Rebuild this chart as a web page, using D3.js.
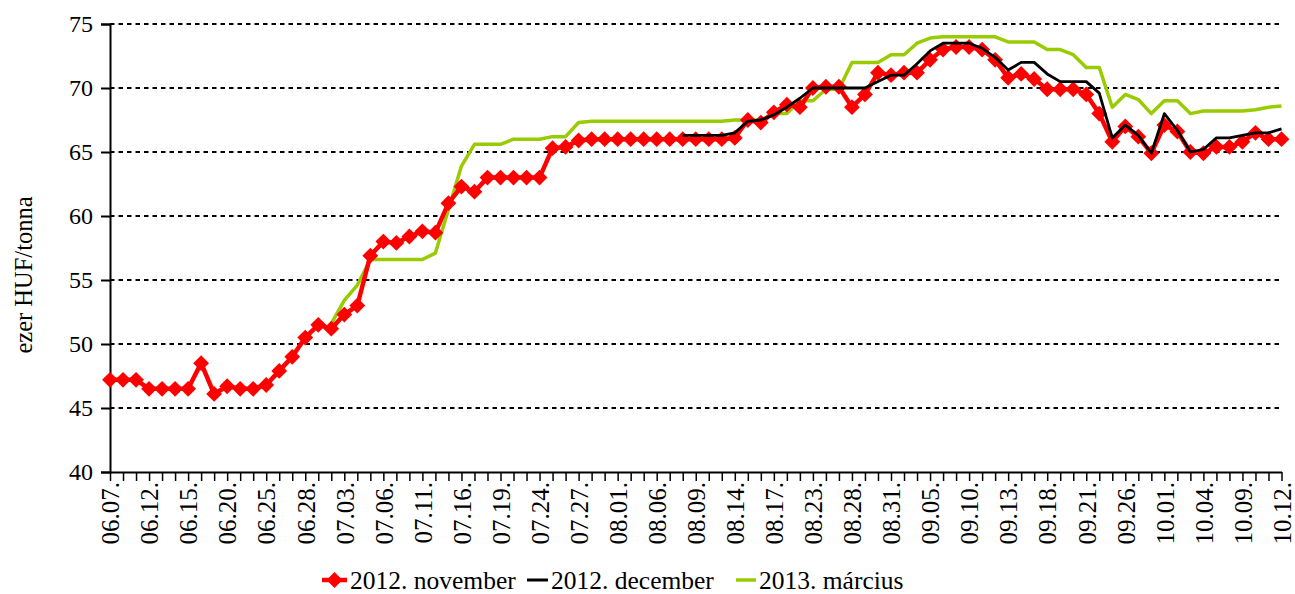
<!DOCTYPE html>
<html>
<head>
<meta charset="utf-8">
<script src="https://cdn.jsdelivr.net/npm/d3@7"></script>
<style>
  body { margin: 0; background: #fff; }
  svg, svg text { font-family: "Liberation Serif", "Times New Roman", serif; }
</style>
</head>
<body>
<div class="canvas"></div>
<script>
// trading days, 2012
var dates = ["06.07.","06.08.","06.11.","06.12.","06.13.","06.14.","06.15.","06.18.","06.19.","06.20.",
  "06.21.","06.22.","06.25.","06.26.","06.27.","06.28.","06.29.","07.02.","07.03.","07.04.",
  "07.05.","07.06.","07.09.","07.10.","07.11.","07.12.","07.13.","07.16.","07.17.","07.18.",
  "07.19.","07.20.","07.23.","07.24.","07.25.","07.26.","07.27.","07.30.","07.31.","08.01.",
  "08.02.","08.03.","08.06.","08.07.","08.08.","08.09.","08.10.","08.13.","08.14.","08.15.",
  "08.16.","08.17.","08.21.","08.22.","08.23.","08.24.","08.27.","08.28.","08.29.","08.30.",
  "08.31.","09.03.","09.04.","09.05.","09.06.","09.07.","09.10.","09.11.","09.12.","09.13.",
  "09.14.","09.17.","09.18.","09.19.","09.20.","09.21.","09.24.","09.25.","09.26.","09.27.",
  "09.28.","10.01.","10.02.","10.03.","10.04.","10.05.","10.08.","10.09.","10.10.","10.11.","10.12."];

var nov2012 = [47.2,47.2,47.2,46.5,46.5,46.5,46.5,48.5,46.1,46.7,
  46.5,46.5,46.8,47.9,49.0,50.5,51.5,51.2,52.3,53.0,
  56.9,58.0,57.9,58.4,58.8,58.7,61.0,62.3,61.9,63.0,
  63.0,63.0,63.0,63.0,65.3,65.4,65.9,66.0,66.0,66.0,
  66.0,66.0,66.0,66.0,66.0,66.0,66.0,66.0,66.1,67.5,
  67.3,68.1,68.7,68.5,70.0,70.1,70.1,68.5,69.5,71.2,
  71.0,71.2,71.2,72.2,73.0,73.2,73.2,73.0,72.2,70.8,
  71.1,70.7,69.9,69.9,69.9,69.5,68.0,65.8,67.0,66.2,
  64.9,67.1,66.6,65.0,64.9,65.4,65.4,65.8,66.5,66.0,66.0];

var dec2012 = [null,null,null,null,null,null,null,null,null,null,
  null,null,null,null,null,null,null,null,null,null,
  null,null,null,null,null,null,null,null,null,null,
  null,null,null,null,null,null,null,null,null,null,
  null,null,null,null,66.3,66.3,66.3,66.3,66.5,67.4,
  67.5,67.9,68.5,69.2,70.0,70.0,70.0,70.0,70.0,70.5,
  71.0,71.0,71.9,72.9,73.5,73.5,73.5,73.1,72.4,71.4,
  72.0,72.0,71.1,70.5,70.5,70.5,69.6,66.1,67.1,66.3,
  64.9,68.0,66.7,65.0,65.2,66.1,66.1,66.3,66.5,66.5,66.8];

var mar2013 = [null,null,null,null,null,null,null,null,null,null,
  null,null,null,null,null,null,null,51.6,53.4,54.6,
  56.6,56.6,56.6,56.6,56.6,57.1,60.5,63.9,65.6,65.6,
  65.6,66.0,66.0,66.0,66.2,66.2,67.3,67.4,67.4,67.4,
  67.4,67.4,67.4,67.4,67.4,67.4,67.4,67.4,67.5,67.5,
  67.5,68.0,68.0,69.0,69.0,69.9,69.9,72.0,72.0,72.0,
  72.6,72.6,73.5,73.9,74.0,74.0,74.0,74.0,74.0,73.6,
  73.6,73.6,73.0,73.0,72.6,71.6,71.6,68.5,69.5,69.1,
  68.0,69.0,69.0,68.0,68.2,68.2,68.2,68.2,68.3,68.5,68.6];

var yTicks = [40, 45, 50, 55, 60, 65, 70, 75];
var seriesNames = ["2012. november", "2012. december", "2013. március"];

var width = 1295, height = 594;
var margin = { left: 110, right: 1281.5, top: 24, bottom: 472 };

var svg = d3.select(".canvas").append("svg")
  .attr("width", width)
  .attr("height", height);

var x = d3.scalePoint().domain(dates).range([margin.left, margin.right]);
var y = d3.scaleLinear().domain([40, 75]).range([margin.bottom, margin.top]);

// gridlines
svg.append("g")
  .selectAll("line")
  .data(yTicks.filter(function(t){ return t > 40; }))
  .enter().append("line")
  .attr("x1", margin.left).attr("x2", margin.right)
  .attr("y1", function(d){ return y(d); })
  .attr("y2", function(d){ return y(d); })
  .attr("stroke", "#000")
  .attr("stroke-width", 2)
  .attr("stroke-dasharray", "4.5,4");

// y axis
var yAxis = svg.append("g")
  .attr("transform", "translate(" + margin.left + ",0)")
  .call(d3.axisLeft(y).tickValues(yTicks).tickSize(9).tickPadding(8));
yAxis.attr("font-family", null).attr("font-size", null);
yAxis.select(".domain").attr("stroke-width", 2);
yAxis.selectAll(".tick line").attr("stroke-width", 2);
yAxis.selectAll("text")
  .style("font-size", "24px")
  .attr("fill", "#000");

// x axis
var xAxis = svg.append("g")
  .attr("transform", "translate(0," + margin.bottom + ")")
  .call(d3.axisBottom(x).tickSize(9).tickSizeOuter(0)
    .tickFormat(function(d, i){ return i % 3 === 0 ? d : ""; }));
xAxis.attr("font-family", null).attr("font-size", null);
xAxis.select(".domain").attr("stroke-width", 2);
xAxis.selectAll(".tick line").attr("stroke-width", 1.5);
xAxis.selectAll("text")
  .style("font-size", "25px")
  .attr("fill", "#000")
  .attr("text-anchor", "end")
  .attr("transform", "rotate(-90)")
  .attr("x", -10)
  .attr("y", 0)
  .attr("dy", "0.35em");

// y title
svg.append("text")
  .attr("transform", "translate(23,275) rotate(-90)")
  .attr("text-anchor", "middle")
  .attr("dy", "0.35em")
  .style("font-size", "24.5px")
  .text("ezer HUF/tonna");

var line = d3.line()
  .defined(function(d){ return d != null; })
  .x(function(d, i){ return x(dates[i]); })
  .y(function(d){ return y(d); });

var diamond = d3.symbol().type(d3.symbolDiamond2).size(160);

// 2013. március
svg.append("path")
  .datum(mar2013)
  .attr("fill", "none")
  .attr("stroke", "#99CC00")
  .attr("stroke-width", 3.5)
  .attr("stroke-linejoin", "round")
  .attr("d", line);

// 2012. november
svg.append("path")
  .datum(nov2012)
  .attr("fill", "none")
  .attr("stroke", "#FF0000")
  .attr("stroke-width", 4.5)
  .attr("d", line);

svg.append("g")
  .selectAll("path")
  .data(nov2012)
  .enter().append("path")
  .attr("d", diamond)
  .attr("fill", "#FF0000")
  .attr("transform", function(d, i){
    return "translate(" + x(dates[i]) + "," + y(d) + ")";
  });

// 2012. december
svg.append("path")
  .datum(dec2012)
  .attr("fill", "none")
  .attr("stroke", "#000")
  .attr("stroke-width", 2.8)
  .attr("stroke-linejoin", "round")
  .attr("d", line);

// legend
var legendY = 580;
var legendItems = [
  { name: seriesNames[0], color: "#FF0000", x: 322, w: 25, sw: 4.5, marker: true },
  { name: seriesNames[1], color: "#000", x: 527, w: 21, sw: 3, marker: false },
  { name: seriesNames[2], color: "#99CC00", x: 736, w: 20, sw: 3.5, marker: false }
];
var lg = svg.append("g").selectAll("g")
  .data(legendItems)
  .enter().append("g");
lg.append("line")
  .attr("x1", function(d){ return d.x; })
  .attr("x2", function(d){ return d.x + d.w; })
  .attr("y1", legendY).attr("y2", legendY)
  .attr("stroke", function(d){ return d.color; })
  .attr("stroke-width", function(d){ return d.sw; });
lg.filter(function(d){ return d.marker; })
  .append("path")
  .attr("d", diamond)
  .attr("fill", function(d){ return d.color; })
  .attr("transform", function(d){ return "translate(" + (d.x + d.w / 2) + "," + legendY + ")"; });
lg.append("text")
  .attr("x", function(d){ return d.x + d.w + 3; })
  .attr("y", legendY)
  .attr("dy", "0.35em")
  .style("font-size", "25.5px")
  .text(function(d){ return d.name; });
</script>
</body>
</html>
